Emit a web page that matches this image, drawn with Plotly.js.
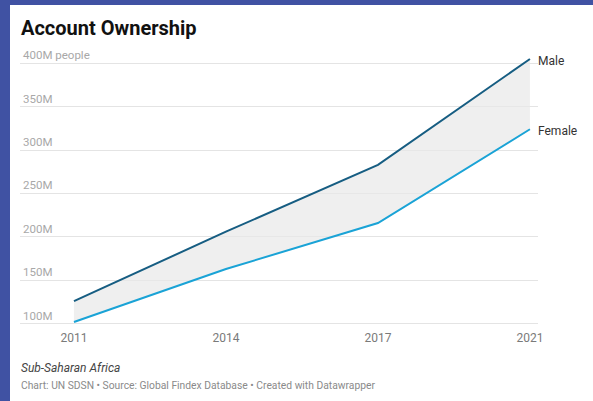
<!DOCTYPE html>
<html>
<head>
<meta charset="utf-8">
<script src="https://cdn.plot.ly/plotly-3.0.1.min.js"></script>
<style>html,body{margin:0;padding:0;background:#fff;}#chart{width:593px;height:401px;}</style>
</head>
<body>
<div id="chart"></div>
<script>
const years = ["2011", "2014", "2017", "2021"];
const male = [126, 206, 283, 405];
const female = [102, 163, 216, 324];
const yTickVals = [100, 150, 200, 250, 300, 350, 400];
const yTickText = ["100M", "150M", "200M", "250M", "300M", "350M", "400M people"];

const idx = years.map((_, i) => i);
const font = "Roboto, 'Noto Sans', Arial, sans-serif";

const traces = [
  {x: idx, y: female, type: "scatter", mode: "lines", name: "Female",
   line: {color: "#1aa3d6", width: 2}, hoverinfo: "skip"},
  {x: idx, y: male, type: "scatter", mode: "lines", name: "Male",
   line: {color: "#165d82", width: 2}, fill: "tonexty", fillcolor: "rgba(232,232,232,0.7)", hoverinfo: "skip"}
];

const L = 20, R = 55, T = 42, B = 72, W = 593, H = 401;
const pw = W - L - R, ph = H - T - B;
const px = v => (v - L) / pw;
const py = v => (H - B - v) / ph;
const pxPerUnit = 0.868;
const yTop = 400 + (63.3 - T) / pxPerUnit;
const yBot = 100 - ((H - B) - 323.7) / pxPerUnit;

const layout = {
  width: W, height: H,
  margin: {l: L, r: R, t: T, b: B, pad: 0},
  paper_bgcolor: "#fff", plot_bgcolor: "#fff",
  showlegend: false,
  font: {family: font},
  xaxis: {
    range: [-0.355, 3.053], tickvals: idx, ticktext: years,
    showgrid: false, zeroline: false, showline: false, ticks: "",
    ticklabeloverflow: "allow",
    tickfont: {size: 12, color: "#7a7a7a", family: font}, fixedrange: true
  },
  yaxis: {
    range: [yBot, yTop], tickvals: yTickVals, ticktext: yTickText,
    ticklabelposition: "inside top", ticklabeloverflow: "allow",
    showgrid: true, gridcolor: "#e4e4e4", gridwidth: 1, zeroline: false, showline: false, ticks: "",
    tickfont: {size: 11.5, color: "#a8a8a8", family: font}, fixedrange: true
  },
  shapes: [
    {type: "rect", xref: "paper", yref: "paper", x0: px(0), x1: px(10), y0: py(401), y1: py(0),
     fillcolor: "#4052a3", line: {width: 0}, layer: "above"},
    {type: "rect", xref: "paper", yref: "paper", x0: px(0), x1: px(593), y0: py(5), y1: py(0),
     fillcolor: "#4052a3", line: {width: 0}, layer: "above"}
  ],
  annotations: [
    {text: "<b>Account Ownership</b>", xref: "paper", yref: "paper", x: px(19), y: py(27.5),
     xanchor: "left", yanchor: "middle", showarrow: false, font: {size: 20, color: "#111", family: font}},
    {text: "Male", xref: "x", yref: "y", x: 3, y: male[3], xanchor: "left", yanchor: "middle",
     xshift: 6, yshift: -2, showarrow: false, font: {size: 12, color: "#333", family: font}},
    {text: "Female", xref: "x", yref: "y", x: 3, y: female[3], xanchor: "left", yanchor: "middle",
     xshift: 6, yshift: -2, showarrow: false, font: {size: 12, color: "#333", family: font}},
    {text: "<i>Sub-Saharan Africa</i>", xref: "paper", yref: "paper", x: px(19), y: py(368),
     xanchor: "left", yanchor: "middle", showarrow: false, font: {size: 12, color: "#444", family: font}},
    {text: "Chart: UN SDSN • Source: Global Findex Database • Created with Datawrapper", xref: "paper", yref: "paper",
     x: px(19), y: py(385), xanchor: "left", yanchor: "middle", showarrow: false,
     font: {size: 10.3, color: "#8a8a8a", family: font}}
  ]
};

Plotly.newPlot("chart", traces, layout, {staticPlot: true, displayModeBar: false});
</script>
</body>
</html>
